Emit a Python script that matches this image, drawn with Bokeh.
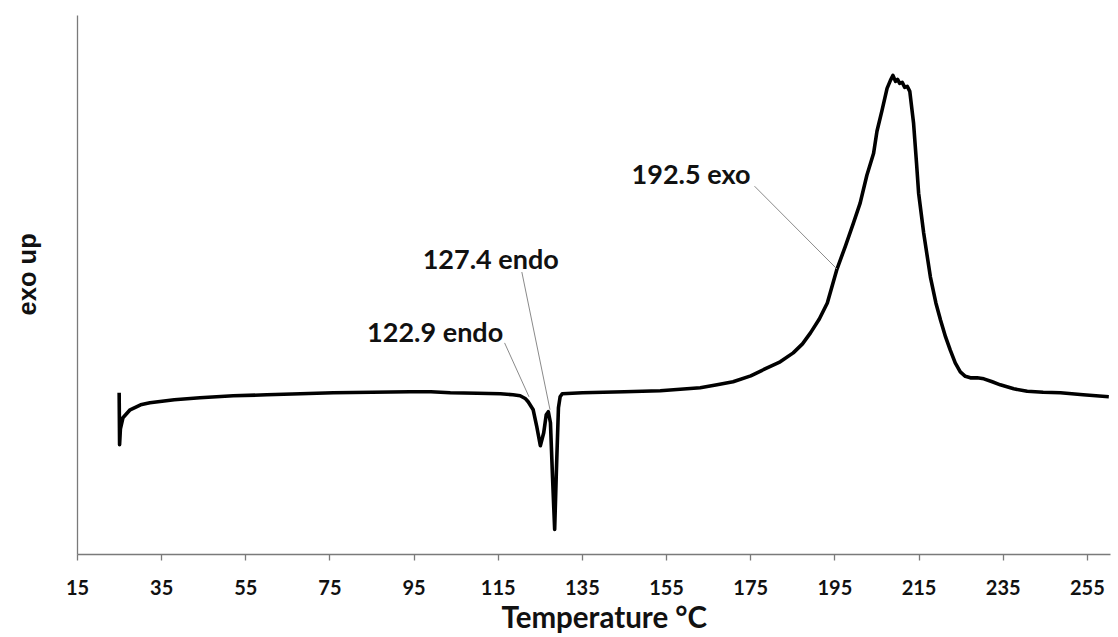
from bokeh.plotting import figure
from bokeh.models import FixedTicker, Range1d, ColumnDataSource, Title
from bokeh.core.properties import value
from bokeh.embed import file_html
from bokeh.resources import INLINE

# ---------------- data ----------------
temperature = [24.9, 25.0, 25.2, 25.8, 27.5, 30.0, 32.2, 38.0, 44.1, 52.0, 60.0, 68.0,
               75.8, 85.0, 94.0, 99.0, 103.6, 110.0, 115.5, 118.5, 120.2, 121.5, 122.1,
               123.3, 124.2, 125.0, 125.8, 126.4, 126.9, 127.4, 127.9, 128.4, 128.8,
               129.3, 129.7, 130.2, 135.0, 140.0, 145.0, 153.5, 163.0, 167.0, 170.8,
               175.0, 178.9, 182.0, 185.1, 187.3, 189.2, 191.3, 193.2, 195.5, 197.5,
               199.4, 201.0, 202.6, 204.2, 205.0, 206.2, 207.4, 208.2, 208.8, 209.4,
               209.9, 210.4, 211.0, 211.6, 212.2, 212.8, 213.7, 214.4, 214.9, 216.1,
               217.7, 219.0, 220.1, 221.3, 222.4, 223.6, 224.8, 226.0, 227.2, 228.8,
               230.4, 232.4, 234.3, 237.5, 240.7, 244.5, 248.6, 254.0, 260.1]
heat_flow = [0.00, -0.52, -0.36, -0.25, -0.17, -0.12, -0.10, -0.07, -0.05, -0.03, -0.02, -0.01,
             0.00, 0.005, 0.01, 0.01, 0.00, -0.005, -0.01, -0.02, -0.03, -0.06, -0.09,
             -0.17, -0.35, -0.53, -0.40, -0.22, -0.19, -0.30, -0.85, -1.37, -0.80,
             -0.15, -0.04, -0.01, 0.00, 0.005, 0.01, 0.02, 0.05, 0.08, 0.11,
             0.17, 0.25, 0.31, 0.40, 0.49, 0.60, 0.74, 0.90, 1.24, 1.47,
             1.70, 1.90, 2.18, 2.40, 2.62, 2.83, 3.05, 3.13, 3.18, 3.12,
             3.14, 3.10, 3.11, 3.06, 3.07, 3.02, 2.70, 2.30, 2.00, 1.60,
             1.16, 0.90, 0.73, 0.56, 0.43, 0.30, 0.21, 0.165, 0.15, 0.15,
             0.14, 0.11, 0.08, 0.04, 0.015, 0.005, 0.00, -0.02, -0.04]

x_ticks = [15, 35, 55, 75, 95, 115, 135, 155, 175, 195, 215, 235, 255]

annotation_texts = ["122.9 endo", "127.4 endo", "192.5 exo"]
annotation_text_x = [100.0, 113.2, 160.8]
annotation_text_y = [0.615, 1.35, 2.20]
leader_x0 = [116.5, 120.6, 175.9]
leader_y0 = [0.50, 1.21, 2.07]
leader_x1 = [122.3, 127.3, 195.5]
leader_y1 = [-0.04, -0.17, 1.24]

x_title = "Temperature °C"
y_title = "exo up"

# ---------------- figure ----------------
p = figure(width=1118, height=637, output_backend="svg", toolbar_location=None,
           x_range=Range1d(15, 260.5), y_range=Range1d(-1.62, 3.78),
           min_border_left=77, min_border_right=8, min_border_top=15,
           min_border_bottom=82)
p.outline_line_color = None
p.xgrid.visible = False
p.ygrid.visible = False
p.background_fill_color = "white"
p.border_fill_color = "white"

axis_color = "#7a7a7a"
# x axis
p.xaxis.ticker = FixedTicker(ticks=x_ticks)
p.xaxis.axis_line_color = axis_color
p.xaxis.axis_line_width = 1.3
p.xaxis.major_tick_line_color = axis_color
p.xaxis.major_tick_line_width = 1.3
p.xaxis.major_tick_out = 6
p.xaxis.major_tick_in = 0
p.xaxis.minor_tick_line_color = None
p.xaxis.major_label_standoff = 19
p.xaxis.major_label_text_font = "Lato"
p.xaxis.major_label_text_font_style = "bold"
p.xaxis.major_label_text_font_size = "20px"
p.xaxis.major_label_text_color = "#111111"

# y axis: line only, with its title
p.yaxis.ticker = FixedTicker(ticks=[])
p.yaxis.axis_line_color = axis_color
p.yaxis.axis_line_width = 1.3
p.yaxis.major_tick_line_color = None
p.yaxis.minor_tick_line_color = None
p.yaxis.major_tick_out = 0
p.yaxis.major_tick_in = 0
p.yaxis.major_label_text_font_size = "0px"
p.yaxis.axis_label = "\u00a0\u00a0\u00a0" + y_title
p.yaxis.axis_label_standoff = 37
p.yaxis.axis_label_text_font = "Liberation Sans"
p.yaxis.axis_label_text_font_style = "bold"
p.yaxis.axis_label_text_font_size = "25.5px"
p.yaxis.axis_label_text_color = "#111111"

# curve
src = ColumnDataSource(dict(t=temperature, q=heat_flow))
p.line("t", "q", source=src, line_color="black", line_width=3.6, line_join="round")

# leader lines
p.segment(x0=leader_x0, y0=leader_y0, x1=leader_x1, y1=leader_y1,
          line_color="#8a8a8a", line_width=1)

# annotation texts
p.text(x=annotation_text_x, y=annotation_text_y, text=annotation_texts,
       text_font=value("Lato"), text_font_style="bold", text_font_size="27px",
       text_align="center", text_baseline="middle", text_color="#111111")

# x axis title
xt = Title(text=x_title, align="left", offset=424, vertical_align="top", standoff=3,
           text_font="Lato", text_font_style="bold", text_font_size="29.5px",
           text_color="#111111")
p.add_layout(xt, "below")

open("out.html", "w").write(file_html(p, INLINE))
